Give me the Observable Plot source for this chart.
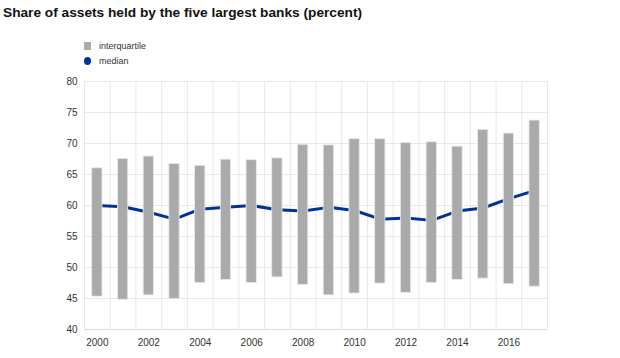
<!DOCTYPE html>
<html>
<head>
<meta charset="utf-8">
<script src="https://cdn.jsdelivr.net/npm/d3@7"></script>
<script src="https://cdn.jsdelivr.net/npm/@observablehq/plot@0.6"></script>
<style>
  html, body { margin: 0; padding: 0; background: #fff; }
  body { width: 620px; height: 358px; position: relative; overflow: hidden; font-family: "Liberation Sans", Arial, sans-serif; }
  #title { position: absolute; left: 3px; top: 4px; font-size: 13.7px; font-weight: bold; color: #111; line-height: 18px; white-space: nowrap; }
  .leg { position: absolute; left: 84px; font-size: 9px; color: #333; line-height: 10px; display: flex; align-items: center; }
  .sw { width: 7px; height: 8px; margin-right: 8px; }
  #chart { position: absolute; left: 0; top: 0; }
</style>
</head>
<body>
<div id="chart"></div>
<div id="title">Share of assets held by the five largest banks (percent)</div>
<div class="leg" style="top:41px"><span class="sw" style="background:#aaaaaa"></span>interquartile</div>
<div class="leg" style="top:56px"><span class="sw" style="background:#003399;border-radius:50%"></span>median</div>
<script>
const years   = [2000,2001,2002,2003,2004,2005,2006,2007,2008,2009,2010,2011,2012,2013,2014,2015,2016,2017];
const q1      = [45.3,44.8,45.5,44.9,47.5,48.0,47.5,48.4,47.2,45.5,45.8,47.4,45.9,47.5,48.0,48.2,47.3,46.9];
const q3      = [66.0,67.5,67.9,66.7,66.4,67.4,67.3,67.6,69.8,69.7,70.7,70.7,70.1,70.2,69.5,72.2,71.6,73.7];
const median  = [60.0,59.8,58.9,57.8,59.4,59.7,60.0,59.3,59.1,59.7,59.2,57.8,58.0,57.6,59.1,59.6,61.1,62.4];
const yTicks  = [40,45,50,55,60,65,70,75,80];
const xTicks  = [2000,2002,2004,2006,2008,2010,2012,2014,2016];

const data = years.map((y, i) => ({year: y, q1: q1[i], q3: q3[i], median: median[i]}));
const bounds = [years[0] - 0.5, ...years.map(y => y + 0.5)];

const plot = Plot.plot({
  width: 620,
  height: 358,
  marginLeft: 84,
  marginRight: 73,
  marginTop: 81,
  marginBottom: 29,
  style: {fontFamily: "'Liberation Sans', Arial, sans-serif", fontSize: "10px", color: "#333", background: "transparent"},
  x: {type: "linear", domain: [bounds[0], bounds[bounds.length - 1]]},
  y: {domain: [40, 80]},
  marks: [
    Plot.ruleY(yTicks, {stroke: "#e8e8e8", strokeWidth: 1}),
    Plot.ruleX(bounds, {stroke: "#e8e8e8", strokeWidth: 1}),
    Plot.ruleY([40], {stroke: "#dcdcdc", strokeWidth: 1}),
    Plot.axisY({ticks: yTicks, tickSize: 0, tickPadding: 7, label: null, fill: "#333"}),
    Plot.axisX({ticks: xTicks, tickSize: 0, tickPadding: 9, tickFormat: d => String(d), label: null, fill: "#333"}),
    Plot.line(data, {x: "year", y: "median", stroke: "#003399", strokeWidth: 3}),
    Plot.rectY(data, {x1: d => d.year - 0.2, x2: d => d.year + 0.2, y1: "q1", y2: "q3", fill: "#aaaaaa", stroke: "#e9e9e9", strokeWidth: 0.8})
  ]
});
document.getElementById("chart").appendChild(plot);
</script>
</body>
</html>
